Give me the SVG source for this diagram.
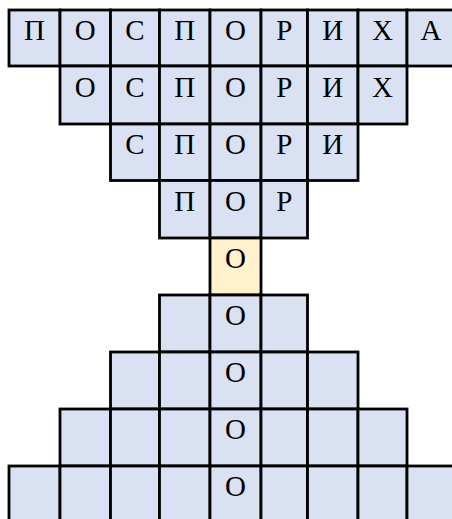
<svg xmlns="http://www.w3.org/2000/svg" width="452" height="519" viewBox="0 0 452 519">
<style>
.c{fill:#D9E1F2;stroke:#000;stroke-width:2.8}
.y{fill:#FFF2CC;stroke:#000;stroke-width:2.8}
text{font-family:"Liberation Serif","Times New Roman",serif;font-size:29px;fill:#000;text-anchor:middle}
</style>
<rect width="452" height="519" fill="#fff"/>
<g id="row0">
<g id="r0c0"><rect class="c" x="9" y="10" width="51" height="56"/><text x="34.5" y="40">П</text></g>
<g id="r0c1"><rect class="c" x="60" y="10" width="50.5" height="56"/><text x="85.2" y="40">О</text></g>
<g id="r0c2"><rect class="c" x="110.5" y="10" width="49" height="56"/><text x="135" y="40">С</text></g>
<g id="r0c3"><rect class="c" x="159.5" y="10" width="50.5" height="56"/><text x="184.7" y="40">П</text></g>
<g id="r0c4"><rect class="c" x="210" y="10" width="51" height="56"/><text x="235.5" y="40">О</text></g>
<g id="r0c5"><rect class="c" x="261" y="10" width="46.5" height="56"/><text x="284.2" y="40">Р</text></g>
<g id="r0c6"><rect class="c" x="307.5" y="10" width="50.5" height="56"/><text x="332.7" y="40">И</text></g>
<g id="r0c7"><rect class="c" x="358" y="10" width="49" height="56"/><text x="382.5" y="40">Х</text></g>
<g id="r0c8"><rect class="c" x="407" y="10" width="49" height="56"/><text x="431" y="40">А</text></g>
</g>
<g id="row1">
<g id="r1c1"><rect class="c" x="60" y="66" width="50.5" height="58"/><text x="85.2" y="97">О</text></g>
<g id="r1c2"><rect class="c" x="110.5" y="66" width="49" height="58"/><text x="135" y="97">С</text></g>
<g id="r1c3"><rect class="c" x="159.5" y="66" width="50.5" height="58"/><text x="184.7" y="97">П</text></g>
<g id="r1c4"><rect class="c" x="210" y="66" width="51" height="58"/><text x="235.5" y="97">О</text></g>
<g id="r1c5"><rect class="c" x="261" y="66" width="46.5" height="58"/><text x="284.2" y="97">Р</text></g>
<g id="r1c6"><rect class="c" x="307.5" y="66" width="50.5" height="58"/><text x="332.7" y="97">И</text></g>
<g id="r1c7"><rect class="c" x="358" y="66" width="49" height="58"/><text x="382.5" y="97">Х</text></g>
</g>
<g id="row2">
<g id="r2c2"><rect class="c" x="110.5" y="124" width="49" height="56.5"/><text x="135" y="154">С</text></g>
<g id="r2c3"><rect class="c" x="159.5" y="124" width="50.5" height="56.5"/><text x="184.7" y="154">П</text></g>
<g id="r2c4"><rect class="c" x="210" y="124" width="51" height="56.5"/><text x="235.5" y="154">О</text></g>
<g id="r2c5"><rect class="c" x="261" y="124" width="46.5" height="56.5"/><text x="284.2" y="154">Р</text></g>
<g id="r2c6"><rect class="c" x="307.5" y="124" width="50.5" height="56.5"/><text x="332.7" y="154">И</text></g>
</g>
<g id="row3">
<g id="r3c3"><rect class="c" x="159.5" y="180.5" width="50.5" height="57.5"/><text x="184.7" y="211">П</text></g>
<g id="r3c4"><rect class="c" x="210" y="180.5" width="51" height="57.5"/><text x="235.5" y="211">О</text></g>
<g id="r3c5"><rect class="c" x="261" y="180.5" width="46.5" height="57.5"/><text x="284.2" y="211">Р</text></g>
</g>
<g id="row4">
<g id="r4c4"><rect class="y" x="210" y="238" width="51" height="57"/><text x="235.5" y="268">О</text></g>
</g>
<g id="row5">
<g id="r5c3"><rect class="c" x="159.5" y="295" width="50.5" height="57"/></g>
<g id="r5c4"><rect class="c" x="210" y="295" width="51" height="57"/><text x="235.5" y="325">О</text></g>
<g id="r5c5"><rect class="c" x="261" y="295" width="46.5" height="57"/></g>
</g>
<g id="row6">
<g id="r6c2"><rect class="c" x="110.5" y="352" width="49" height="57"/></g>
<g id="r6c3"><rect class="c" x="159.5" y="352" width="50.5" height="57"/></g>
<g id="r6c4"><rect class="c" x="210" y="352" width="51" height="57"/><text x="235.5" y="382">О</text></g>
<g id="r6c5"><rect class="c" x="261" y="352" width="46.5" height="57"/></g>
<g id="r6c6"><rect class="c" x="307.5" y="352" width="50.5" height="57"/></g>
</g>
<g id="row7">
<g id="r7c1"><rect class="c" x="60" y="409" width="50.5" height="57"/></g>
<g id="r7c2"><rect class="c" x="110.5" y="409" width="49" height="57"/></g>
<g id="r7c3"><rect class="c" x="159.5" y="409" width="50.5" height="57"/></g>
<g id="r7c4"><rect class="c" x="210" y="409" width="51" height="57"/><text x="235.5" y="439">О</text></g>
<g id="r7c5"><rect class="c" x="261" y="409" width="46.5" height="57"/></g>
<g id="r7c6"><rect class="c" x="307.5" y="409" width="50.5" height="57"/></g>
<g id="r7c7"><rect class="c" x="358" y="409" width="49" height="57"/></g>
</g>
<g id="row8">
<g id="r8c0"><rect class="c" x="9" y="466" width="51" height="57"/></g>
<g id="r8c1"><rect class="c" x="60" y="466" width="50.5" height="57"/></g>
<g id="r8c2"><rect class="c" x="110.5" y="466" width="49" height="57"/></g>
<g id="r8c3"><rect class="c" x="159.5" y="466" width="50.5" height="57"/></g>
<g id="r8c4"><rect class="c" x="210" y="466" width="51" height="57"/><text x="235.5" y="496">О</text></g>
<g id="r8c5"><rect class="c" x="261" y="466" width="46.5" height="57"/></g>
<g id="r8c6"><rect class="c" x="307.5" y="466" width="50.5" height="57"/></g>
<g id="r8c7"><rect class="c" x="358" y="466" width="49" height="57"/></g>
<g id="r8c8"><rect class="c" x="407" y="466" width="49" height="57"/></g>
</g>
<g id="connectors"/>
</svg>
